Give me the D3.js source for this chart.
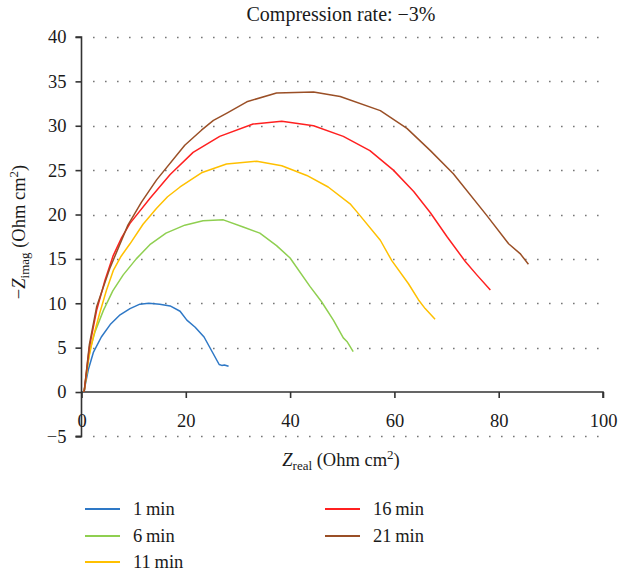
<!DOCTYPE html>
<html><head><meta charset="utf-8">
<script src="https://cdn.jsdelivr.net/npm/d3@7/dist/d3.min.js"></script>
</head>
<body style="margin:0;background:#fff"><svg id="chart" width="620" height="575"></svg>
<script>
const title = "Compression rate: \u22123%";
const seriesNames = ["1\u2009min","6\u2009min","11\u2009min","16\u2009min","21\u2009min"];
const seriesColors = ["#2e78c6","#8fcf50","#ffc000","#ff2020","#9a4f26"];
const xTicks = [0,20,40,60,80,100];
const yTicks = [-5,0,5,10,15,20,25,30,35,40];

const x1min = [0.5,0.65,1.3,2.3,3.8,5.5,7.4,9.3,11.2,12.9,15,17.0,18.9,20.2,21.8,23.5,26.4,26.9,27.4,28.2];
const y1min = [0,0.6,2.5,4.5,6.2,7.6,8.7,9.4,9.9,10.0,9.9,9.7,9.1,8.1,7.3,6.2,3.1,3.0,3.05,2.9];
const x6min = [0.5,1.6,2.6,4.2,6,8.0,10.5,13.1,16.2,19.8,23.3,27.2,31,34.2,37.4,40,43.8,46,48.3,50.2,50.9,52.1];
const y6min = [0,4.7,6.8,9.2,11.4,13.2,15,16.6,17.9,18.8,19.3,19.4,18.6,17.9,16.5,15.1,11.9,10.2,8.1,6.1,5.7,4.55];
const x11min = [0.5,1.3,2.3,3.5,4.8,6.1,7.6,9.3,11.8,14.4,16.5,18.9,23.0,27.8,33.6,38.4,43.2,47.3,51.5,53.1,57.3,59.5,62.7,64.6,65.9,67.8];
const y11min = [0,3.6,6.3,8.9,11.5,13.7,15.3,16.7,18.9,20.7,22.0,23.1,24.7,25.7,26.0,25.5,24.4,23.1,21.2,20.1,17.1,14.8,12.2,10.4,9.4,8.2];
const x16min = [0.5,1.5,2.9,4.5,6.1,7.7,9.3,13.1,17.0,21.4,26.5,32.9,38.4,44.5,50.2,55.3,59.8,63.7,66.9,70.1,73.6,75.8,78.4];
const y16min = [0,5.0,9.2,12.6,15.4,17.4,19.0,21.8,24.5,27.0,28.8,30.2,30.5,30.0,28.8,27.2,25.0,22.6,20.2,17.5,14.7,13.2,11.5];
const x21min = [0.5,1.5,2.9,5.4,8.9,11.5,14.4,19.8,23.0,25.3,27.8,31.7,37.4,44.5,49.6,57.3,62.4,66.9,71.3,77.7,81.9,84.1,85.7];
const y21min = [0,5.3,9.6,13.9,18.8,21.4,23.9,27.8,29.5,30.6,31.4,32.7,33.7,33.8,33.3,31.7,29.7,27.2,24.6,19.9,16.7,15.6,14.4];

const seriesX = [x1min,x6min,x11min,x16min,x21min];
const seriesY = [y1min,y6min,y11min,y16min,y21min];

const FONT = "'Liberation Serif'";
const FS = "18.5px";
const SUB = "13px";
const svg = d3.select("#chart");
const x = d3.scaleLinear().domain([0,100]).range([81.5,603]);
const y = d3.scaleLinear().domain([-5,40]).range([436.4,37]);

// title
svg.append("text").attr("x",341).attr("y",21).attr("text-anchor","middle")
  .style("font-family",FONT).style("font-size","20px").style("fill","#1a1a1a").text(title);

// grid lines (dotted)
const gridVals = yTicks.filter(v => v !== 0);
svg.append("g").selectAll("line").data(gridVals).join("line")
  .attr("x1",93).attr("x2",603)
  .attr("y1",d=>Math.round(y(d))+0.5).attr("y2",d=>Math.round(y(d))+0.5)
  .attr("stroke","#777").attr("stroke-width",1.6)
  .attr("stroke-dasharray","1.6,10.4");

// y axis
const yAxis = d3.axisLeft(y).tickValues(yTicks).tickSize(6).tickPadding(9)
  .tickFormat(d => d < 0 ? "\u2212" + Math.abs(d) : d);
const gy = svg.append("g").attr("transform",`translate(${x(0)},0)`).call(yAxis);
gy.select(".domain").attr("stroke","#333").attr("stroke-width",1.6)
  .attr("d",`M-6,${y(40)}H0V${y(-5)}H-6`);
gy.selectAll(".tick line").attr("stroke","#333").attr("stroke-width",1.6);
gy.selectAll(".tick text").style("font-family",FONT).style("font-size",FS).style("fill","#1a1a1a");

// x axis at y=0
const xAxis = d3.axisBottom(x).tickValues(xTicks).tickSize(6).tickPadding(16)
  .tickFormat(d3.format("d"));
const gx = svg.append("g").attr("transform",`translate(0,${y(0)})`).call(xAxis);
gx.select(".domain").attr("stroke","#333").attr("stroke-width",1.6)
  .attr("d",`M${x(0)},0H${x(100)}V6`);
gx.selectAll(".tick line").attr("stroke","#333").attr("stroke-width",1.6);
gx.selectAll(".tick text").style("font-family",FONT).style("font-size",FS).style("fill","#1a1a1a");

// curves
const line = d3.line().x(d=>x(d[0])).y(d=>y(d[1]));
seriesX.forEach((xs,i)=>{
  const pts = xs.map((v,j)=>[v,seriesY[i][j]]);
  svg.append("path").datum(pts).attr("d",line)
    .attr("fill","none").attr("stroke",seriesColors[i]).attr("stroke-width",1.5)
    .attr("stroke-linejoin","round");
});

// x label
const xl = svg.append("text").attr("x",341).attr("y",466).attr("text-anchor","middle")
  .style("font-family",FONT).style("font-size",FS).style("fill","#1a1a1a");
xl.append("tspan").style("font-style","italic").text("Z");
xl.append("tspan").attr("dy",4).style("font-size",SUB).text("real");
xl.append("tspan").attr("dy",-4).text(" (Ohm cm");
xl.append("tspan").attr("dy",-7).style("font-size",SUB).text("2");
xl.append("tspan").attr("dy",7).text(")");

// y label
const yl = svg.append("text").attr("transform","translate(25,232) rotate(-90)").attr("text-anchor","middle")
  .style("font-family",FONT).style("font-size",FS).style("fill","#1a1a1a");
yl.append("tspan").text("\u2212");
yl.append("tspan").style("font-style","italic").text("Z");
yl.append("tspan").attr("dy",4).style("font-size",SUB).text("imag");
yl.append("tspan").attr("dy",-4).text(" (Ohm cm");
yl.append("tspan").attr("dy",-7).style("font-size",SUB).text("2");
yl.append("tspan").attr("dy",7).text(")");

// legend
const legPos = [[85,509],[85,536],[85,562],[325,509],[325,536]];
const leg = svg.append("g").selectAll("g").data(seriesNames).join("g")
  .attr("transform",(d,i)=>`translate(${legPos[i][0]},${legPos[i][1]})`);
leg.append("line").attr("x1",0).attr("x2",35).attr("y1",0).attr("y2",0)
  .attr("stroke",(d,i)=>seriesColors[i]).attr("stroke-width",2);
leg.append("text").attr("x",48).attr("y",6).style("font-family",FONT).style("font-size",FS).style("fill","#1a1a1a").text(d=>d);
</script></body></html>
